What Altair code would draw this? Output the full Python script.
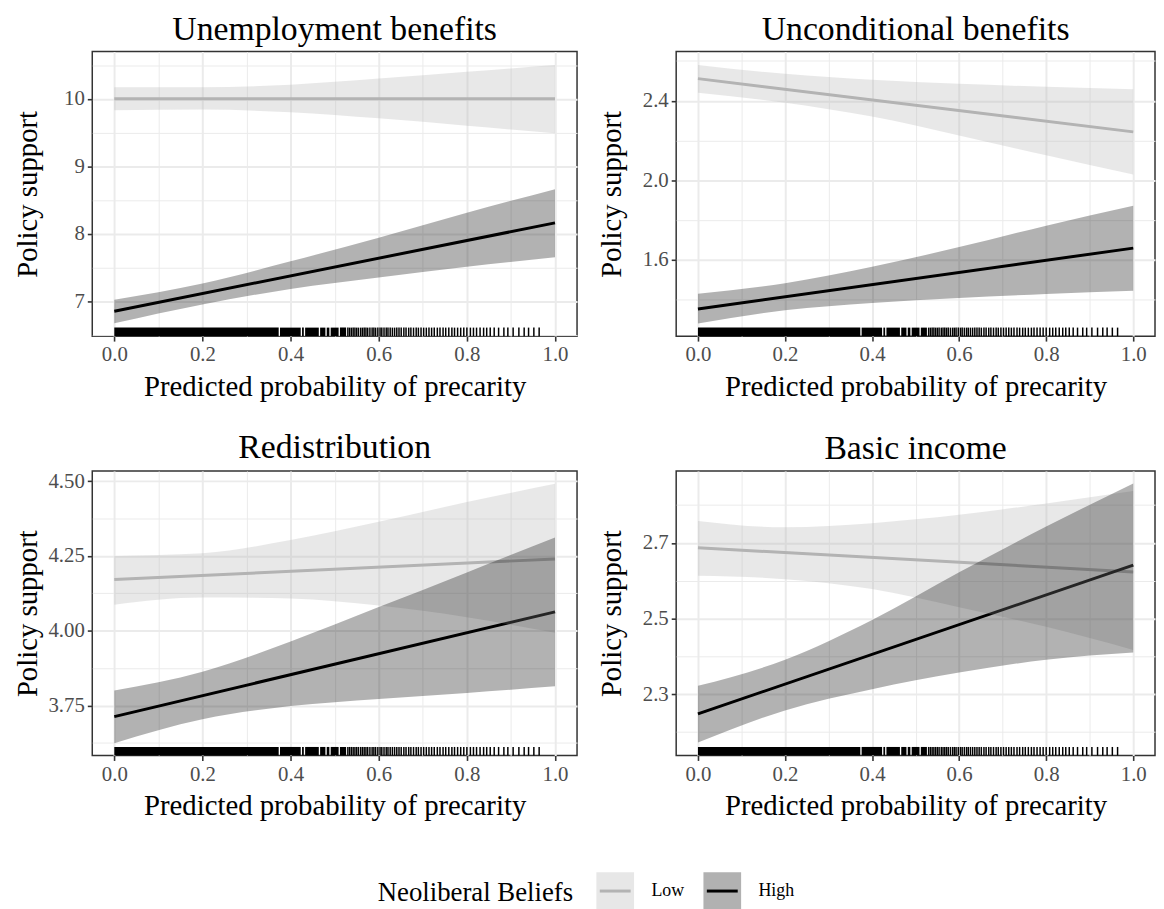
import altair as alt
import pandas as pd

FONT = "Liberation Serif"

# ---------------- data ----------------
panel_titles = ["Unemployment benefits", "Unconditional benefits", "Redistribution", "Basic income"]
groups = ["Low", "High"]

x_band = [0.0, 0.2, 0.4, 0.6, 0.8, 1.0]
x_line = [0.0, 1.0]

# Unemployment benefits
ub_low_line = [10.00, 10.00]
ub_low_lo = [9.83, 9.84, 9.80, 9.71, 9.60, 9.49]
ub_low_hi = [10.17, 10.17, 10.21, 10.30, 10.40, 10.50]
ub_high_line = [6.85, 8.16]
ub_high_lo = [6.67, 6.95, 7.18, 7.35, 7.51, 7.65]
ub_high_hi = [7.02, 7.26, 7.59, 7.94, 8.31, 8.66]

# Unconditional benefits
uc_low_line = [2.511, 2.243]
uc_low_lo = [2.44, 2.39, 2.32, 2.225, 2.125, 2.028]
uc_low_hi = [2.58, 2.535, 2.505, 2.485, 2.47, 2.458]
uc_high_line = [1.352, 1.658]
uc_high_lo = [1.279, 1.345, 1.382, 1.407, 1.427, 1.443]
uc_high_hi = [1.428, 1.481, 1.564, 1.663, 1.771, 1.871]

# Redistribution
rd_low_line = [4.171, 4.240]
rd_low_lo = [4.087, 4.111, 4.108, 4.084, 4.045, 3.993]
rd_low_hi = [4.250, 4.259, 4.303, 4.364, 4.430, 4.491]
rd_high_line = [3.713, 4.063]
rd_high_lo = [3.624, 3.704, 3.748, 3.772, 3.792, 3.814]
rd_high_hi = [3.800, 3.863, 3.964, 4.079, 4.195, 4.312]

# Basic income
bi_low_line = [2.687, 2.623]
bi_low_lo = [2.613, 2.604, 2.578, 2.530, 2.478, 2.417]
bi_low_hi = [2.758, 2.741, 2.752, 2.774, 2.804, 2.837]
bi_high_line = [2.248, 2.641]
bi_high_lo = [2.172, 2.257, 2.313, 2.357, 2.391, 2.410]
bi_high_hi = [2.322, 2.391, 2.496, 2.622, 2.743, 2.857]

# y-axis ranges and ticks
y_domains = [[6.48, 10.70], [1.215, 2.647], [3.583, 4.534], [2.138, 2.890]]
y_major = [[7, 8, 9, 10], [1.6, 2.0, 2.4], [3.75, 4.0, 4.25, 4.5], [2.3, 2.5, 2.7]]
y_minor = [[6.5, 7.5, 8.5, 9.5, 10.5], [1.4, 1.8, 2.2, 2.6],
           [3.625, 3.875, 4.125, 4.375], [2.2, 2.4, 2.6, 2.8]]
y_formats = [".0f", ".1f", ".2f", ".1f"]

x_ticks = [0.0, 0.1, 0.2, 0.3, 0.4, 0.5, 0.6, 0.7, 0.8, 0.9, 1.0]

# rug (predicted probability of precarity), solid runs + single ticks
rug_block_start = [0.000, 0.376, 0.426, 0.433, 0.467, 0.482, 0.491, 0.512]
rug_block_end = [0.373, 0.423, 0.430, 0.464, 0.479, 0.488, 0.509, 0.526]
rug_ticks = [0.530, 0.534, 0.538, 0.542, 0.546, 0.550, 0.554, 0.559, 0.563, 0.567,
             0.571, 0.575, 0.580, 0.585, 0.589, 0.593, 0.598, 0.603, 0.607, 0.612,
             0.617, 0.621, 0.626, 0.631, 0.636, 0.641, 0.646, 0.651, 0.657, 0.662,
             0.668, 0.673, 0.679, 0.685, 0.690, 0.696, 0.702, 0.708, 0.714, 0.720,
             0.726, 0.733, 0.739, 0.746, 0.752, 0.759, 0.766, 0.772, 0.779, 0.786,
             0.793, 0.800, 0.808, 0.815, 0.822, 0.830, 0.838, 0.845, 0.853, 0.862,
             0.872, 0.884, 0.893, 0.905, 0.918, 0.930, 0.940, 0.952, 0.964]

panels = [
    (ub_low_line, ub_low_lo, ub_low_hi, ub_high_line, ub_high_lo, ub_high_hi),
    (uc_low_line, uc_low_lo, uc_low_hi, uc_high_line, uc_high_lo, uc_high_hi),
    (rd_low_line, rd_low_lo, rd_low_hi, rd_high_line, rd_high_lo, rd_high_hi),
    (bi_low_line, bi_low_lo, bi_low_hi, bi_high_line, bi_high_lo, bi_high_hi),
]

# ---------------- styling ----------------
PH = 287
PW = [489, 483, 489, 483]
RUG_LEN = 8.6
GRID = "#EBEBEB"
INK = "#333333"

COLORS = ["#B3B3B3", "#000000"]

rug_blocks_df = pd.DataFrame({"s": rug_block_start, "e": rug_block_end})
rug_ticks_df = pd.DataFrame({"v": rug_ticks})

x_test = "round(datum.value*10) % 2 === 0"

LEG_X = 288
LEG_Y = 826
common_legend = dict(
    title="Neoliberal Beliefs", orient="none", legendX=LEG_X, legendY=LEG_Y,
    direction="horizontal", titleOrient="left", titleFont=FONT, titleFontSize=27,
    titleFontWeight="normal", titleColor="black", titlePadding=21, titleAnchor="middle",
    titleBaseline="middle", titleLimit=400,
    labelFont=FONT, labelFontSize=18, labelColor="black", labelOffset=16,
    columnPadding=13, symbolSize=1444, symbolStrokeWidth=3,
)
# line keys drawn with a path whose bounds equal the key box (zero-length corner segments)
stroke_legend = alt.Legend(symbolType="M-1,-1L-1,-1M-0.82,0L0.82,0M1,1L1,1",
                           symbolOpacity=1, labelOpacity=0, titleOpacity=0,
                           **common_legend)
fill_legend = alt.Legend(symbolType="M-1,-1H1V1H-1Z", symbolStrokeColor="transparent",
                         symbolOpacity=0.3, **common_legend)


def make_panel(i):
    lowl, lowlo, lowhi, hil, hilo, hihi = panels[i]
    line_df = pd.DataFrame({
        "x": x_line + x_line,
        "y": lowl + hil,
        "grp": [groups[0]] * 2 + [groups[1]] * 2,
    })
    band_df = pd.DataFrame({
        "x": x_band + x_band,
        "lo": lowlo + hilo,
        "hi": lowhi + hihi,
        "bgrp": [groups[0]] * 6 + [groups[1]] * 6,
    })
    major = y_major[i]
    y_test = f"indexof({major}, datum.value) >= 0"
    xscale = alt.Scale(domain=[-0.05, 1.05], nice=False, zero=False)
    yscale = alt.Scale(domain=y_domains[i], nice=False, zero=False)
    xaxis = alt.Axis(
        values=x_ticks, format=".1f",
        labelExpr=f"{x_test} ? datum.label : ''",
        gridWidth={"condition": {"test": x_test, "value": 2}, "value": 1},
        tickColor={"condition": {"test": x_test, "value": INK}, "value": "transparent"},
        title="Predicted probability of precarity",
    )
    yaxis = alt.Axis(
        values=sorted(major + y_minor[i]), format=y_formats[i],
        labelExpr=f"{y_test} ? datum.label : ''",
        gridWidth={"condition": {"test": y_test, "value": 2}, "value": 1},
        tickColor={"condition": {"test": y_test, "value": INK}, "value": "transparent"},
        title="Policy support",
    )
    X = lambda f: alt.X(f, type="quantitative", scale=xscale, axis=xaxis, title="Predicted probability of precarity")

    lines = alt.Chart(line_df).mark_line(strokeWidth=3).encode(
        x=X("x"),
        y=alt.Y("y:Q", scale=yscale, axis=yaxis, title="Policy support"),
        stroke=alt.Stroke("grp:N", sort="descending",
                          scale=alt.Scale(range=COLORS), legend=stroke_legend),
        detail="grp:N",
    )
    bands = alt.Chart(band_df).mark_area(fillOpacity=0.3, interpolate="monotone").encode(
        x=X("x"),
        y=alt.Y("lo:Q", scale=yscale, axis=yaxis, title="Policy support"),
        y2="hi:Q",
        fill=alt.Fill("bgrp:N", scale=alt.Scale(domain=groups, range=COLORS),
                      legend=fill_legend),
        detail="bgrp:N",
    )
    blocks = alt.Chart(rug_blocks_df).mark_rect(color="black").encode(
        x=X("s"), x2="e:Q",
        y=alt.value(PH - RUG_LEN), y2=alt.value(PH),
    )
    ticks = alt.Chart(rug_ticks_df).mark_rule(color="black", strokeWidth=1.5).encode(
        x=X("v"),
        y=alt.value(PH - RUG_LEN), y2=alt.value(PH),
    )
    return alt.layer(lines, bands, blocks, ticks).properties(
        width=PW[i], height=PH,
        title=alt.TitleParams(panel_titles[i], font=FONT, fontSize=34, fontWeight="normal",
                              color="black", anchor="middle", offset=5),
    )


row1 = alt.hconcat(make_panel(0), make_panel(1), spacing=19)
row2 = alt.hconcat(make_panel(2), make_panel(3), spacing=19)
chart = alt.vconcat(row1, row2, spacing=28).properties(
    padding={"left": 5, "top": 0, "right": 0, "bottom": 5}
).configure_view(
    stroke=INK, strokeWidth=1.5
).configure_axis(
    domain=False, grid=True, gridColor=GRID,
    ticks=True, tickSize=5, tickWidth=1.6,
    labelFont=FONT, labelFontSize=21, labelColor="#4D4D4D", labelPadding=3,
    titleFont=FONT, titleFontSize=29, titleFontWeight="normal", titleColor="black",
    labelFlush=False,
).configure_axisX(
    titlePadding=5, minExtent=32, maxExtent=32,
).configure_axisY(
    titlePadding=8, minExtent=42, maxExtent=42,
)

chart.save("out.html", embed_options={"renderer": "svg", "actions": False})
